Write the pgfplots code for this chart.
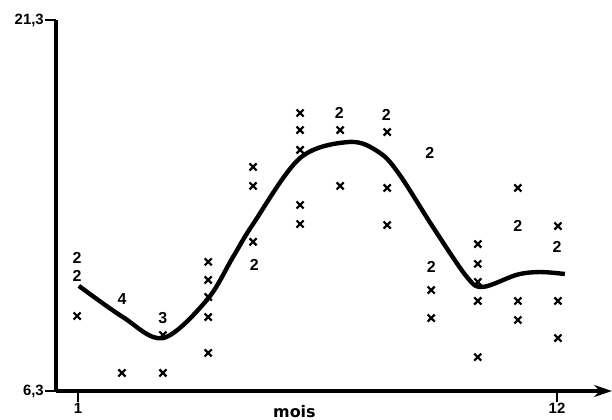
\documentclass[border=0pt]{standalone}
\usepackage{fontspec}
\setmainfont{Liberation Sans}
\newfontfamily\dejavu{DejaVu Sans}
\usepackage{pgfplots}
\pgfplotsset{compat=1.18}
\usepackage{pgfplotstable}
\usetikzlibrary{arrows.meta,calc}

\pgfplotstableread{
x y
0.98 9.33
2.01 7.03
2.95 8.56
2.95 7.03
3.99 11.52
3.99 10.79
3.99 10.10
3.99 9.29
3.99 7.84
5.02 15.36
5.02 14.59
5.02 12.33
6.10 17.54
6.10 16.85
6.10 16.05
6.10 13.82
6.10 13.05
7.02 16.85
7.02 14.59
8.10 16.77
8.10 14.51
8.10 13.01
9.11 10.38
9.11 9.25
10.18 12.24
10.18 11.44
10.18 10.71
10.18 9.94
10.18 7.67
11.10 14.51
11.10 9.94
11.10 9.17
12.02 12.97
12.02 9.94
12.02 8.44
}\crosses

\pgfplotstableread{
x y n
0.98 11.68 2
0.98 10.96 2
2.01 10.02 4
2.95 9.25 3
5.05 11.40 2
7.00 17.54 2
8.08 17.48 2
9.08 15.94 2
9.11 11.31 2
11.10 12.97 2
12.00 12.12 2
}\counts

\pgfplotstableread{
x y
1.02 10.55
2.03 9.29
2.95 8.44
3.96 9.98
4.56 11.72
5.02 13.05
6.10 15.72
7.25 16.37
7.93 15.93
8.39 15.03
9.15 12.93
9.93 10.91
10.30 10.51
11.08 11.00
11.61 11.11
12.18 11.03
}\curve

\begin{document}
\begin{tikzpicture}
\begin{axis}[
  scale only axis,
  width=556bp, height=371bp,
  xmin=0.4948, xmax=13.262,
  ymin=6.3, ymax=21.3,
  axis x line=bottom, axis y line=left,
  x axis line style={line width=3bp, -{Stealth[length=18bp,width=12bp]}},
  y axis line style={line width=4bp, -},
  xtick={1,12}, xticklabels={1,12},
  ytick={6.3,21.3}, yticklabels={{6,3},{21,3}},
  tick align=outside,
  major tick length=11bp,
  tick style={line width=2.4bp, black},
  /pgf/number format/assume math mode=true,
  tick label style={font=\fontsize{15}{15}\selectfont\bfseries, inner sep=1bp},
  xlabel={mois},
  every axis x label/.style={at={(axis cs:5.97,6.3)}, anchor=base, yshift=-26bp, inner sep=0pt, font=\dejavu\fontsize{16}{16}\selectfont\bfseries},
  clip=false,
]
\addplot[only marks, mark=x, mark size=5bp, line width=2.2bp, black] table[x=x,y=y] {\crosses};
\addplot[draw=none, mark=none, nodes near coords, point meta=explicit symbolic,
  every node near coord/.append style={anchor=center, inner sep=0pt, font=\fontsize{16}{16}\selectfont\bfseries}]
  table[x=x,y=y,meta=n] {\counts};
\addplot[black, line width=4.4bp, smooth, tension=0.55] table[x=x,y=y] {\curve};
\coordinate (bl) at (rel axis cs:0,0);
\coordinate (tr) at (rel axis cs:1,1);
\end{axis}
\pgfresetboundingbox
\path[use as bounding box] ($(bl)+(-56bp,-29bp)$) rectangle ($(tr)+(0bp,20bp)$);
\end{tikzpicture}
\end{document}
